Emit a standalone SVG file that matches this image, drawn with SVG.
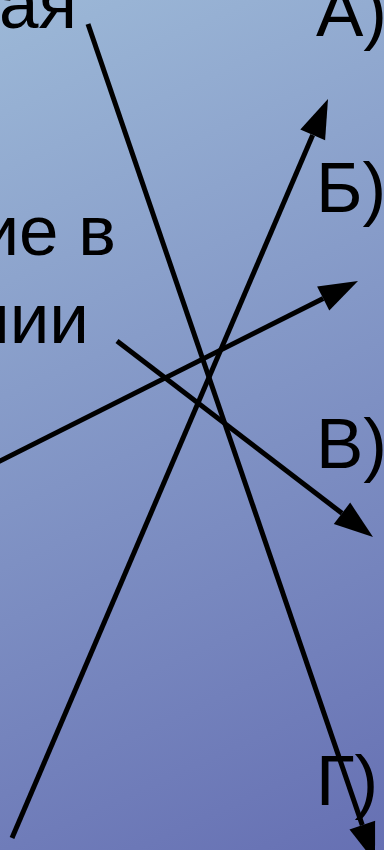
<svg xmlns="http://www.w3.org/2000/svg" width="384" height="850" viewBox="0 0 384 850">
<defs>
<linearGradient id="bg" x1="0" y1="0" x2="384" y2="850" gradientUnits="userSpaceOnUse">
<stop offset="0" stop-color="#9CB8D7"/>
<stop offset="1" stop-color="#6670B3"/>
</linearGradient>
<style>
.t{font-family:"Liberation Sans",Arial,sans-serif;font-size:71px;fill:#000}
.ln{stroke:#000;stroke-width:5;fill:none;stroke-linecap:butt}
.ah{fill:#000;stroke:none}
</style>
</defs>
<rect width="384" height="850" fill="url(#bg)"/>
<g id="text-left">
<text class="t" x="77" y="28" text-anchor="end">ая</text>
<text class="t" x="116" y="255" text-anchor="end">ие в</text>
<text class="t" x="89" y="343" text-anchor="end">нии</text>
</g>
<g id="label-a"><text class="t" x="316" y="36">А)</text></g>
<g id="label-b"><text class="t" x="316" y="212">Б)</text></g>
<g id="label-v"><text class="t" x="316" y="468">В)</text></g>
<g id="label-g"><text class="t" x="316" y="805">Г)</text></g>
<g id="connectors">
<line class="ln" x1="88" y1="24" x2="362.3" y2="825.1"/>
<polygon class="ah" points="375,862 349.5,829.5 375.1,820.7"/>
<line class="ln" x1="12" y1="838" x2="312.7" y2="134.9"/>
<polygon class="ah" points="328,99 325.1,140.2 300.3,129.6"/>
<line class="ln" x1="-2" y1="462" x2="323.2" y2="298.5"/>
<polygon class="ah" points="358,281 329.3,310.6 317.1,286.4"/>
<line class="ln" x1="117" y1="341" x2="342" y2="513.3"/>
<polygon class="ah" points="373,537 350.2,502.6 333.8,524"/>
</g>
</svg>
